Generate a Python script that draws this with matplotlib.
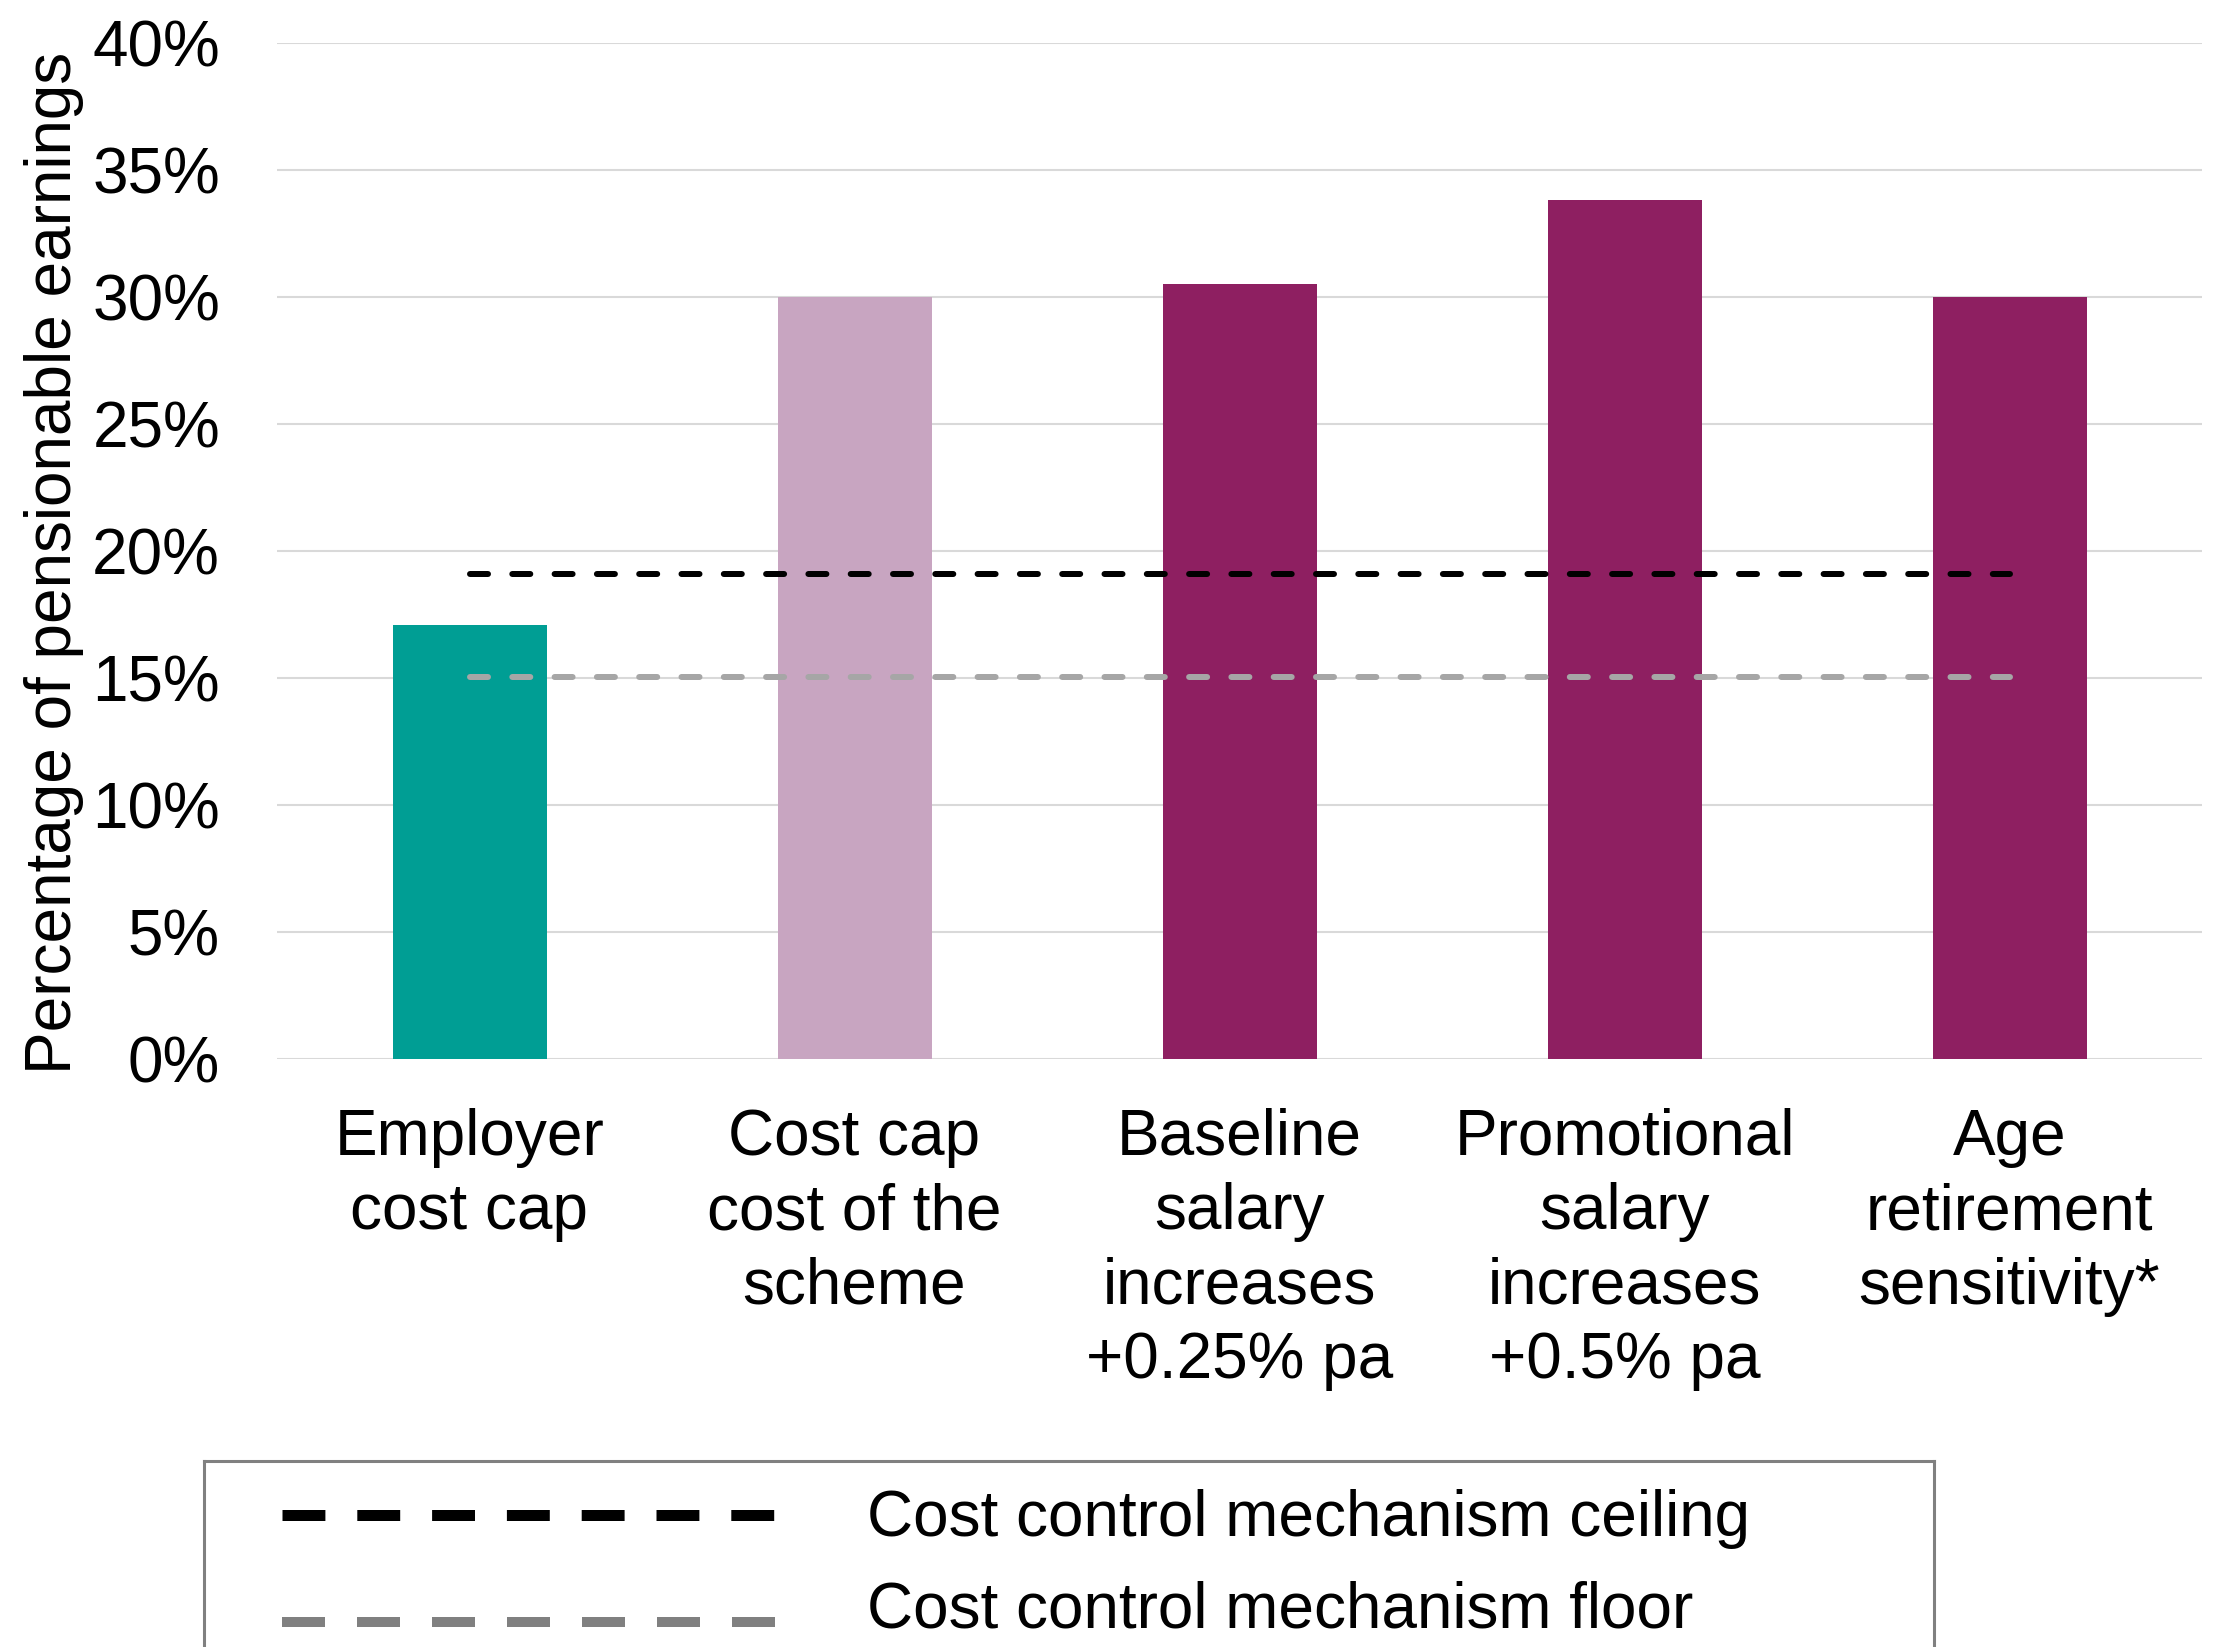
import matplotlib
matplotlib.use("Agg")
import matplotlib.pyplot as plt

plt.rcParams['font.family'] = ['Liberation Sans', 'DejaVu Sans']

# bar data (% of pensionable earnings)
categories = ["Employer\ncost cap", "Cost cap\ncost of the\nscheme",
              "Baseline\nsalary\nincreases\n+0.25% pa",
              "Promotional\nsalary\nincreases\n+0.5% pa",
              "Age\nretirement\nsensitivity*"]
values = [17.1, 30.0, 30.5, 33.8, 30.0]
bar_colors = ["#009E94", "#C8A5C1", "#8E1F61", "#8E1F61", "#8E1F61"]

# cost control mechanism corridor
ceiling = [19.1, 19.1, 19.1, 19.1, 19.1]
floor = [15.05, 15.05, 15.05, 15.05, 15.05]

y_ticks = [0, 5, 10, 15, 20, 25, 30, 35, 40]
y_labels = ["0%", "5%", "10%", "15%", "20%", "25%", "30%", "35%", "40%"]

W, H = 2228, 1647
fig = plt.figure(figsize=(W / 200, H / 200), dpi=200)
ax = fig.add_axes([277 / W, 1 - 1059 / H, (2202 - 277) / W, (1059 - 43) / H])

x = list(range(len(categories)))
ax.bar(x, values, width=0.4, color=bar_colors, zorder=2)

ax.plot(x, ceiling, color="black", lw=2.16, dashes=(3, 4.05),
        dash_capstyle="round", zorder=3)
ax.plot(x, floor, color="#A6A6A6", lw=2.16, dashes=(3, 4.05),
        dash_capstyle="round", zorder=3)

ax.set_xlim(-0.5, len(categories) - 0.5)
ax.set_ylim(0, 40)
ax.set_yticks(y_ticks)
ax.set_yticklabels(y_labels, fontsize=23)
ax.set_xticks(x)
ax.set_xticklabels(categories, fontsize=23, linespacing=1.31)
ax.tick_params(axis="y", length=0, pad=20.5)
ax.tick_params(axis="x", length=0, pad=17.5)
ax.grid(axis="y", color="#D9D9D9", lw=0.75, zorder=0)
for s in ax.spines.values():
    s.set_visible(False)
ax.set_axisbelow(True)

ax.set_ylabel("Percentage of pensionable earnings", fontsize=23, va="center")
ax.yaxis.set_label_coords((54 - 277) / (2202 - 277), (1059 - 563) / (1059 - 43))

# legend box, drawn in pixel units; lower edge runs off the figure
lax = fig.add_axes([204 / W, 1 - 1700 / H, (1934 - 204) / W, (1700 - 1461) / H])
lax.set_xlim(204, 1934)
lax.set_ylim(1700, 1461)
lax.set_xticks([])
lax.set_yticks([])
lax.patch.set_alpha(0)
for s in lax.spines.values():
    s.set_color("#808080")
    s.set_linewidth(1.1)

lax.plot([282, 775], [1515, 1515], color="black", lw=3.96,
         dashes=(3.9, 2.9), dash_capstyle="butt")
lax.plot([282, 775], [1622, 1622], color="#808080", lw=3.6,
         dashes=(4.3, 3.2), dash_capstyle="butt")
lax.text(867, 1536, "Cost control mechanism ceiling", fontsize=23, va="baseline")
lax.text(867, 1628, "Cost control mechanism floor", fontsize=23, va="baseline")

fig.savefig("out.png", dpi=200)
